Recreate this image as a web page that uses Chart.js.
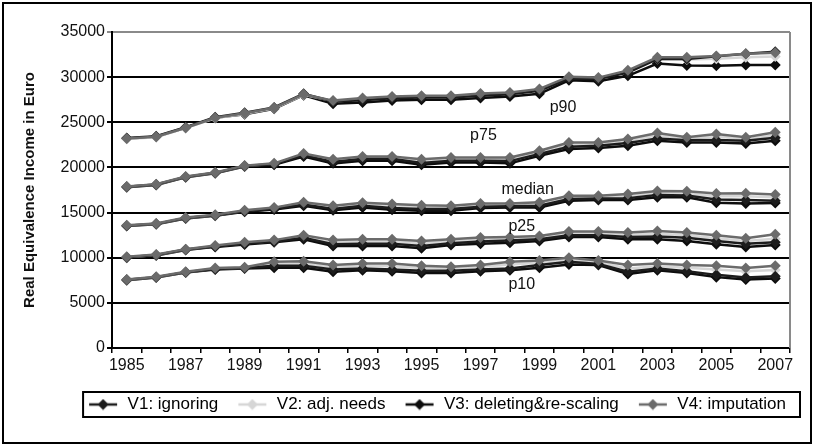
<!DOCTYPE html>
<html>
<head>
<meta charset="utf-8">
<script src="https://cdn.jsdelivr.net/npm/chart.js@4.4.1/dist/chart.umd.min.js"></script>
<style>
  html, body { margin: 0; padding: 0; background: #fff; }
  #wrap { width: 814px; height: 446px; }
</style>
</head>
<body>
<div id="wrap"><canvas id="incomeChart" width="814" height="446"></canvas></div>
<script>
// years on the x axis
const years = ['1985','1986','1987','1988','1989','1990','1991','1992','1993','1994','1995','1996',
               '1997','1998','1999','2000','2001','2002','2003','2004','2005','2006','2007'];

// p90
const p90_v1 = [23250,23450,24450,25550,26050,26650,28150,27300,27450,27650,27750,27750,27950,28100,28500,29850,29800,30500,32000,32000,32300,32600,32800];
const p90_v2 = [23150,23350,24350,25450,25950,26550,28050,27350,27600,27750,27850,27850,28100,28200,28600,29950,29850,30600,32000,31950,32050,32200,32300];
const p90_v3 = [23200,23400,24400,25500,25900,26500,28000,27050,27200,27400,27500,27500,27700,27850,28150,29650,29550,30150,31500,31300,31250,31350,31350];
const p90_v4 = [23200,23400,24400,25500,26000,26600,28100,27400,27700,27850,27950,27950,28200,28300,28700,30050,29950,30750,32200,32200,32350,32600,32700];

// p75
const p75_v1 = [17850,18100,18950,19400,20150,20350,21350,20600,20950,20950,20500,20750,20750,20700,21500,22300,22400,22700,23200,23000,23050,22950,23300];
const p75_v2 = [17850,18100,18950,19400,20150,20400,21450,20750,21050,21050,20750,20950,20950,20950,21700,22550,22550,22950,23550,23150,23450,23100,23600];
const p75_v3 = [17800,18050,18900,19350,20100,20300,21200,20450,20750,20750,20300,20550,20550,20450,21300,22050,22150,22400,22950,22750,22750,22650,22950];
const p75_v4 = [17900,18150,19000,19450,20200,20450,21550,20900,21200,21200,20900,21100,21100,21100,21850,22750,22750,23150,23800,23350,23700,23350,23900];

// median
const med_v1 = [13550,13750,14400,14700,15150,15400,15900,15400,15750,15500,15400,15400,15650,15700,15750,16500,16550,16600,16950,16900,16450,16400,16300];
const med_v2 = [13550,13750,14400,14700,15200,15500,16050,15600,15950,15800,15650,15600,15850,15850,16000,16700,16700,16850,17200,17100,16800,16800,16700];
const med_v3 = [13500,13700,14350,14650,15100,15350,15750,15250,15550,15300,15200,15200,15500,15550,15550,16300,16400,16400,16700,16700,16100,16000,16050];
const med_v4 = [13600,13800,14450,14750,15250,15550,16150,15750,16100,15950,15800,15750,16000,16000,16150,16850,16850,17050,17400,17350,17100,17150,17000];

// p25
const p25_v1 = [10050,10300,10900,11250,11550,11800,12200,11500,11550,11550,11300,11600,11800,11900,12050,12500,12500,12300,12350,12200,11850,11550,11700];
const p25_v2 = [10050,10300,10900,11300,11600,11850,12350,11700,11800,11800,11600,11800,12000,12100,12200,12700,12700,12550,12650,12500,12150,11850,12100];
const p25_v3 = [10000,10250,10850,11200,11450,11700,12050,11300,11300,11300,11050,11400,11550,11650,11850,12300,12300,12050,12050,11850,11500,11200,11400];
const p25_v4 = [10100,10350,10950,11350,11700,11950,12500,11950,12050,12050,11850,12050,12250,12300,12400,12900,12900,12800,12950,12800,12500,12150,12600];

// p10
const p10_v1 = [7550,7850,8400,8750,8850,9100,9100,8700,8800,8700,8550,8550,8700,8800,9200,9550,9300,8450,8800,8500,8100,7800,7950];
const p10_v2 = [7550,7850,8400,8800,8900,9300,9350,8950,9100,9050,8850,8800,9000,9250,9450,9750,9500,8800,9050,8900,8700,8500,8650];
const p10_v3 = [7500,7800,8350,8700,8800,8900,8900,8450,8600,8500,8300,8300,8500,8600,8900,9250,9200,8200,8600,8300,7850,7600,7700];
const p10_v4 = [7600,7900,8450,8850,8950,9550,9600,9200,9350,9350,9100,9000,9200,9550,9700,10000,9700,9200,9350,9200,9100,8850,9100];

const versionNames = ['V1: ignoring', 'V2: adj. needs', 'V3: deleting&re-scaling', 'V4: imputation'];
const seriesByVersion = [
  [p90_v1, p75_v1, med_v1, p25_v1, p10_v1],
  [p90_v2, p75_v2, med_v2, p25_v2, p10_v2],
  [p90_v3, p75_v3, med_v3, p25_v3, p10_v3],
  [p90_v4, p75_v4, med_v4, p25_v4, p10_v4]
];

// percentile labels inside the plot (x = category index, y = value)
const bandLabels = ['p90', 'p75', 'median', 'p25', 'p10'];
const bandLabelX = [14.8, 12.1, 13.6, 13.4, 13.4];
const bandLabelY = [26600, 23500, 17600, 13400, 7050];

// styles
const lineColors = ['#1c1c1c', '#d6d6d6', '#0d0d0d', '#6b6b6b'];
const drawOrder = [2, 3, 4, 1];  // V4 on top
const FONT = 'Liberation Sans, Arial, sans-serif';

let datasets = [];
seriesByVersion.forEach((group, v) => {
  group.forEach(d => {
    datasets.push({
      label: versionNames[v],
      data: d,
      borderColor: lineColors[v],
      backgroundColor: lineColors[v],
      borderWidth: 2.5,
      pointStyle: 'rectRot',
      pointRadius: 5.5,
      pointBorderWidth: 0,
      tension: 0,
      order: drawOrder[v]
    });
  });
});

// legend symbol: short line with a diamond, some blank room on the left as item gap
function legendIcon(color) {
  let c = document.createElement('canvas');
  c.width = 46; c.height = 12;
  let g = c.getContext('2d');
  g.strokeStyle = color;
  g.lineWidth = 2.5;
  g.beginPath(); g.moveTo(16, 6); g.lineTo(44, 6); g.stroke();
  g.fillStyle = color;
  g.beginPath(); g.moveTo(30, 0.5); g.lineTo(35.5, 6); g.lineTo(30, 11.5); g.lineTo(24.5, 6); g.closePath(); g.fill();
  return c;
}
const legendIcons = lineColors.map(legendIcon);

// white page, outer frame, plot frame, legend frame, band labels
const decor = {
  id: 'decor',
  beforeDraw(chart) {
    let ctx = chart.ctx;
    ctx.save();
    ctx.fillStyle = '#fff';
    ctx.fillRect(0, 0, chart.width, chart.height);
    ctx.restore();
  },
  afterDatasetsDraw(chart) {
    let ctx = chart.ctx, xs = chart.scales.x, ys = chart.scales.y;
    ctx.save();
    ctx.fillStyle = '#111';
    ctx.font = '16px ' + FONT;
    ctx.textAlign = 'center';
    ctx.textBaseline = 'middle';
    bandLabels.forEach((t, i) => {
      ctx.fillText(t, xs.getPixelForValue(bandLabelX[i]), ys.getPixelForValue(bandLabelY[i]));
    });
    ctx.restore();
  },
  afterDraw(chart) {
    let ctx = chart.ctx, a = chart.chartArea;
    ctx.save();
    // right edge of plot
    ctx.strokeStyle = '#8a8a8a';
    ctx.lineWidth = 2;
    ctx.beginPath(); ctx.moveTo(a.right, a.top); ctx.lineTo(a.right, a.bottom); ctx.stroke();
    // legend frame
    let boxes = chart.legend.legendHitBoxes;
    let l = Math.min(...boxes.map(b => b.left)) + 10;
    let r = Math.max(...boxes.map(b => b.left + b.width)) + 14;
    let t = Math.min(...boxes.map(b => b.top)) - 4;
    let h = boxes[0].height + 8;
    ctx.strokeStyle = '#000';
    ctx.lineWidth = 2;
    ctx.strokeRect(l, t, r - l, h);
    // outer frame
    ctx.strokeRect(3, 3, chart.width - 6, chart.height - 6);
    ctx.restore();
  }
};

new Chart(document.getElementById('incomeChart'), {
  type: 'line',
  data: { labels: years, datasets: datasets },
  options: {
    responsive: false,
    animation: false,
    layout: { padding: { left: 0, top: 32, right: 24, bottom: 23 } },
    plugins: {
      tooltip: { enabled: false },
      legend: {
        position: 'bottom',
        align: 'end',
        labels: {
          usePointStyle: true,
          pointStyleWidth: 46,
          padding: 4,
          color: '#111',
          font: { family: FONT, size: 17 },
          generateLabels: () => versionNames.map((n, i) => ({
            text: n,
            pointStyle: legendIcons[i],
            fillStyle: lineColors[i],
            strokeStyle: lineColors[i],
            lineWidth: 0,
            hidden: false,
            datasetIndex: i
          }))
        }
      }
    },
    scales: {
      x: {
        offset: true,
        afterFit: s => { s.height = 44; },
        grid: { display: true, drawOnChartArea: false, drawTicks: true, tickLength: 5, color: '#000', lineWidth: 1.5, offset: true },
        border: { display: true, color: '#000', width: 2 },
        ticks: {
          autoSkip: false,
          maxRotation: 0,
          padding: 3,
          color: '#111',
          font: { family: FONT, size: 16 },
          callback: (v, i) => (i % 2 === 0 ? years[i] : '')
        }
      },
      y: {
        min: 0,
        max: 35000,
        afterFit: s => { s.width = 112; },
        grid: {
          color: c => (c.tick && c.tick.value === 35000 ? '#8a8a8a' : '#000'),
          lineWidth: 2,
          tickLength: 5
        },
        border: { display: true, color: '#000', width: 2 },
        ticks: {
          stepSize: 5000,
          padding: 2,
          color: '#111',
          font: { family: FONT, size: 16 },
          callback: v => String(v)
        },
        title: {
          display: true,
          text: 'Real Equivalence Income in Euro',
          color: '#111',
          font: { family: FONT, size: 15, weight: 'bold' },
          padding: { top: 21, bottom: 0 }
        }
      }
    }
  },
  plugins: [decor]
});
</script>
</body>
</html>
